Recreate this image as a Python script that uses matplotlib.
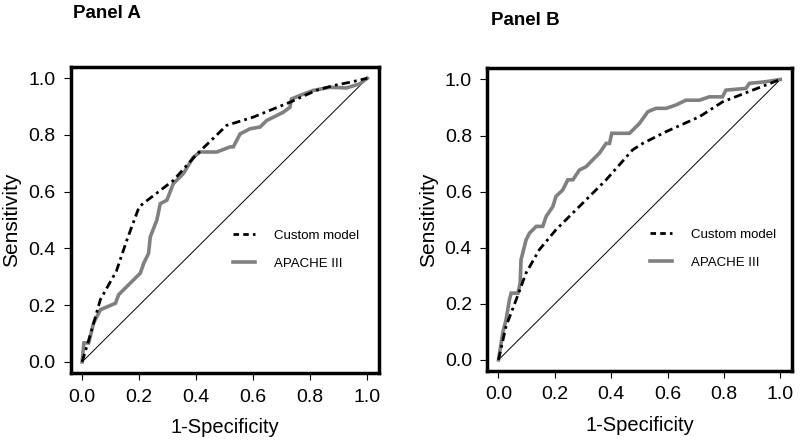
import matplotlib
matplotlib.use("Agg")
import matplotlib.pyplot as plt
from matplotlib.lines import Line2D

plt.rcParams['font.family'] = ['Liberation Sans', 'DejaVu Sans']

# Panel A: ROC curves (1-specificity, sensitivity)
a_custom_fpr = [0.0, 0.03, 0.064, 0.12, 0.157, 0.2, 0.216, 0.32, 0.40, 0.507, 0.6, 0.73, 0.82, 0.88, 0.94, 1.0]
a_custom_tpr = [0.0, 0.10, 0.22, 0.32, 0.43, 0.547, 0.56, 0.64, 0.73, 0.834, 0.863, 0.916, 0.957, 0.974, 0.986, 1.0]

a_apache_fpr = [0.0, 0.006, 0.023, 0.04, 0.064, 0.117, 0.128, 0.157, 0.18, 0.204, 0.216, 0.233, 0.239,
                0.262, 0.274, 0.297, 0.32, 0.355, 0.39, 0.414, 0.472, 0.519, 0.53, 0.554, 0.589, 0.624,
                0.647, 0.705, 0.729, 0.734, 0.763, 0.81, 0.868, 0.927, 0.973, 1.0]
a_apache_tpr = [0.0, 0.067, 0.067, 0.137, 0.184, 0.207, 0.237, 0.266, 0.289, 0.313, 0.348, 0.383, 0.441,
                0.5, 0.558, 0.57, 0.629, 0.664, 0.722, 0.74, 0.74, 0.758, 0.758, 0.804, 0.822, 0.828,
                0.851, 0.88, 0.898, 0.927, 0.939, 0.957, 0.968, 0.966, 0.98, 1.0]

# Panel B
b_custom_fpr = [0.0, 0.027, 0.063, 0.098, 0.145, 0.204, 0.287, 0.382, 0.476, 0.512, 0.595, 0.713, 0.795, 0.902, 1.0]
b_custom_tpr = [0.0, 0.12, 0.215, 0.31, 0.393, 0.464, 0.547, 0.642, 0.749, 0.772, 0.814, 0.867, 0.92, 0.962, 1.0]

b_apache_fpr = [0.0, 0.015, 0.027, 0.039, 0.045, 0.069, 0.077, 0.08, 0.098, 0.11, 0.134, 0.157, 0.169,
                0.193, 0.204, 0.228, 0.246, 0.264, 0.287, 0.311, 0.334, 0.358, 0.382, 0.394, 0.402,
                0.465, 0.5, 0.53, 0.559, 0.595, 0.63, 0.665, 0.713, 0.748, 0.795, 0.807, 0.878, 0.89,
                0.949, 1.0]
b_apache_tpr = [0.0, 0.096, 0.144, 0.215, 0.238, 0.238, 0.274, 0.357, 0.428, 0.452, 0.476, 0.476, 0.511,
                0.547, 0.583, 0.606, 0.642, 0.642, 0.677, 0.689, 0.713, 0.737, 0.772, 0.772, 0.808,
                0.808, 0.843, 0.885, 0.897, 0.897, 0.909, 0.926, 0.926, 0.938, 0.938, 0.962, 0.968,
                0.986, 0.992, 1.0]

ticks = [0.0, 0.2, 0.4, 0.6, 0.8, 1.0]
tick_labels = ['0.0', '0.2', '0.4', '0.6', '0.8', '1.0']
legend_labels = ['Custom model', 'APACHE III']
grey = '#808080'

fig = plt.figure(figsize=(8, 4.46), dpi=100)
ax_a = fig.add_axes([0.0884, 0.163, 0.385, 0.687])
ax_b = fig.add_axes([0.609, 0.168, 0.3805, 0.679])


def draw_panel(ax, cf, ct, af, at, title, leg_x, title_x, title_y):
    ax.plot([0, 1], [0, 1], color='black', lw=0.7)
    ax.plot(af, at, color=grey, lw=2.6, solid_joinstyle='miter')
    ax.plot(cf, ct, color='black', lw=2.0, dashes=(3, 1.5, 1, 1.5))
    ax.set_xlim(-0.04, 1.04)
    ax.set_ylim(-0.04, 1.04)
    ax.set_xticks(ticks)
    ax.set_xticklabels(tick_labels)
    ax.set_yticks(ticks)
    ax.set_yticklabels(tick_labels)
    ax.tick_params(direction='out', length=5, width=0.8, labelsize=14, pad=6)
    for s in ax.spines.values():
        s.set_linewidth(2.5)
    ax.set_xlabel('1-Specificity', fontsize=14.5, labelpad=9)
    ax.set_ylabel('Sensitivity', fontsize=15, labelpad=5)
    handles = [Line2D([], [], color='black', lw=2.0, dashes=(2, 1.5)),
               Line2D([], [], color=grey, lw=2.6)]
    ax.legend(handles, legend_labels, loc='upper left', bbox_to_anchor=(leg_x, 0.47),
              frameon=False, fontsize=9.5, borderpad=0, borderaxespad=0,
              handlelength=1.7, handletextpad=1.4, labelspacing=1.2)
    fig.text(title_x, title_y, title, fontsize=13.5, fontweight='bold', ha='left', va='center')


draw_panel(ax_a, a_custom_fpr, a_custom_tpr, a_apache_fpr, a_apache_tpr, 'Panel A', 0.526, 0.091, 0.97)
draw_panel(ax_b, b_custom_fpr, b_custom_tpr, b_apache_fpr, b_apache_tpr, 'Panel B', 0.534, 0.614, 0.955)

fig.savefig('out.png', dpi=100)
